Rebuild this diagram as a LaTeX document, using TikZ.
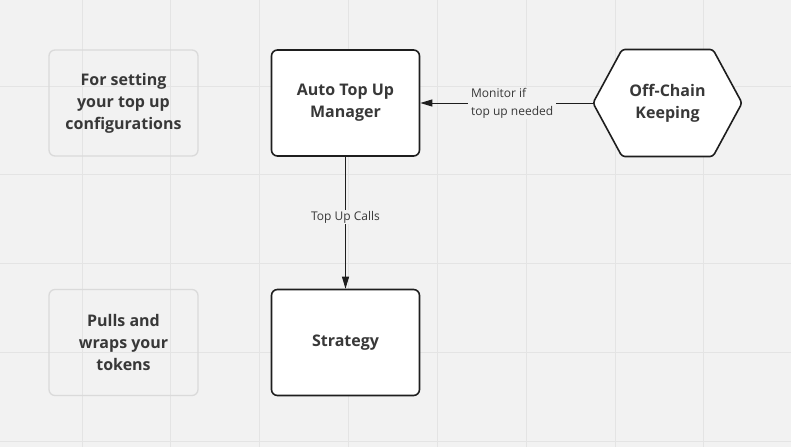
\documentclass[tikz,border=0pt]{standalone}
\usepackage{fontspec}
\setmainfont{Open Sans}
\usetikzlibrary{arrows.meta}
\definecolor{bg}{HTML}{F2F2F2}
\definecolor{gridc}{HTML}{E4E4E4}
\definecolor{ghost}{HTML}{DADADA}
\definecolor{txt}{HTML}{383838}
\definecolor{edge}{HTML}{1E1E1E}
\begin{document}
\begin{tikzpicture}[x=1pt,y=-1pt,
 boxtext/.style={font=\bfseries\fontsize{16}{22}\selectfont, text=txt, align=center},
 mainbox/.style={boxtext, draw=edge, line width=1.6pt, fill=white, rounded corners=6pt, minimum width=148pt, minimum height=106pt, inner sep=0pt},
 ghostbox/.style={boxtext, draw=ghost, line width=1.3pt, rounded corners=6pt, minimum width=149pt, minimum height=106pt, inner sep=0pt},
 hexshape/.style={draw=edge, line width=1.6pt, fill=white, rounded corners=3pt},
 conn/.style={draw=edge, line width=1pt, -{Triangle[length=12pt,width=7pt]}},
 lbl/.style={font=\fontsize{12}{18}\selectfont, text=txt, fill=bg, inner xsep=3pt, inner ysep=1pt, align=left},
 gridline/.style={draw=gridc, line width=1pt}
]
\useasboundingbox (0,0) rectangle (791,447);
\fill[bg] (0,0) rectangle (791,447);
% grid
\foreach \i in {0,...,7} {\draw[gridline] ({82+88.85*\i},0) -- ({82+88.85*\i},447);}
\foreach \j in {0,...,4} {\draw[gridline] (0,{86+88.85*\j}) -- (791,{86+88.85*\j});}
% ghost boxes
\node[ghostbox] (cfg) at (123.5,103) {For setting\\your top up\\configurations};
\node[ghostbox] (pulls) at (123.5,342.5) {Pulls and\\wraps your\\tokens};
% main boxes
\node[mainbox] (mgr) at (345.5,103) {Auto Top Up\\Manager};
\node[mainbox] (str) at (345.5,342.5) {Strategy};
% hexagon
\draw[hexshape] (593,103) -- (622,49.5) -- (713,49.5) -- (742,103) -- (713,156.5) -- (622,156.5) -- cycle;
\node[boxtext] (hex) at (667.5,103) {Off-Chain\\Keeping};
\coordinate (hexL) at (593,103);
% connectors
\draw[conn] (hexL) -- node[lbl, pos=0.468] {Monitor if\\top up needed} (mgr.east);
\draw[conn] (mgr.south) -- node[lbl, pos=0.46, inner xsep=1pt] {Top Up Calls} (str.north);
\end{tikzpicture}
\end{document}
